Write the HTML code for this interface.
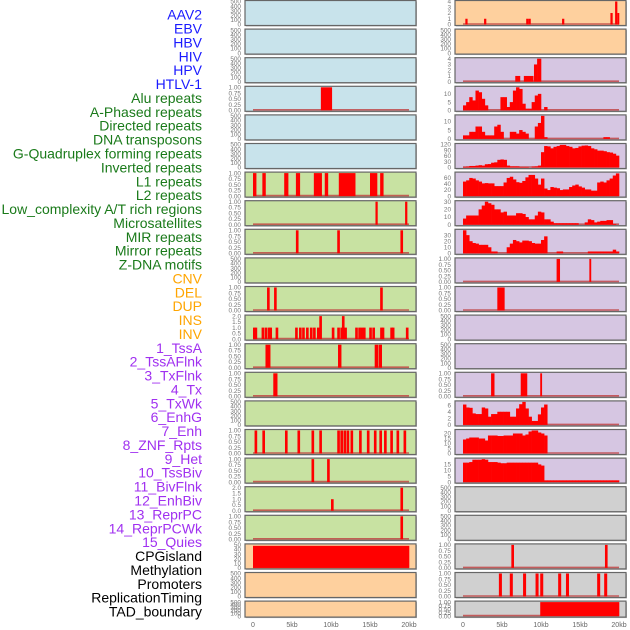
<!DOCTYPE html>
<html><head><meta charset="utf-8">
<style>
html,body{margin:0;padding:0;background:#fff;}
svg{display:block;font-family:"Liberation Sans",sans-serif;}
</style></head>
<body>
<svg id="chart" width="630" height="630" viewBox="0 0 630 630"></svg>
<script>
const trackNames = ["AAV2","EBV","HBV","HIV","HPV","HTLV-1","Alu repeats","A-Phased repeats","Directed repeats","DNA transposons","G-Quadruplex forming repeats","Inverted repeats","L1 repeats","L2 repeats","Low_complexity A/T rich regions","Microsatellites","MIR repeats","Mirror repeats","Z-DNA motifs","CNV","DEL","DUP","INS","INV","1_TssA","2_TssAFlnk","3_TxFlnk","4_Tx","5_TxWk","6_EnhG","7_Enh","8_ZNF_Rpts","9_Het","10_TssBiv","11_BivFlnk","12_EnhBiv","13_ReprPC","14_ReprPCWk","15_Quies","CPGisland","Methylation","Promoters","ReplicationTiming","TAD_boundary"];
const trackGroups = [0,0,0,0,0,0,1,1,1,1,1,1,1,1,1,1,1,1,1,2,2,2,2,2,3,3,3,3,3,3,3,3,3,3,3,3,3,3,3,4,4,4,4,4];
const groupLabelColors = ["#1a1aff","#1a7a1a","#ffa500","#a030f0","#000000"];
const groupPanelColors = ["#c8e3eb","#c8e2a2","#fed09e","#d6c6e2","#d0d0d0"];
const xTicks = [0,5,10,15,20];
const xTickLabels = ["0","5kb","10kb","15kb","20kb"];
const emptyTicks = [0,100,200,300,400,500];
const unitTicks = [0,0.25,0.5,0.75,1];
const twoTicks = [0,0.5,1,1.5,2];

const hivBars = [[8.7,10.1,1]];
const aluBars = [[0,0.4,1],[1.2,1.6,1],[4.0,4.5,1],[5.5,6.0,1],[7.8,8.8,1],[9.2,9.6,1],[11.0,13.1,1],[15.0,15.9,1],[16.3,16.7,1]];
const aphasedBars = [[15.7,15.95,1],[19.5,19.75,1]];
const directedBars = [[5.5,5.8,1],[10.8,11.1,1],[18.9,19.2,1]];
const gquadBars = [[1.8,2.1,1],[2.7,3.0,1],[16.3,16.6,1]];
const invertedStarts = [0,0.2,1.1,1.5,1.9,2.1,2.9,5.4,5.9,6.3,6.8,7.3,7.7,8.2,8.5,10.1,10.8,11.2,11.4,11.7,13.1,13.5,13.8,14.1,14.9,15.3,16.3,16.5,17.6,17.8,19.6];
const invertedValues = [1,1,1,1,1,1,1,1,1,1,1,1,1,1,2,1,1,1,2,1,1,1,1,1,1,1,1,1,1,1,1];
const l1Bars = [[1.6,2.2,1],[10.9,11.3,1],[15.6,16.0,1],[16.1,16.5,1]];
const l2Bars = [[2.6,3.1,1]];
const microStarts = [0.2,1.2,4.1,5.7,7.5,8.5,10.8,11.2,11.6,12.0,12.5,13.6,14.6,15.5,16.2,16.8,17.6,18.4,19.3];
const mirBars = [[7.5,7.8,1],[9.5,9.8,1]];
const mirrorBars = [[10.0,10.3,1],[18.9,19.2,2]];
const zdnaBars = [[18.9,19.2,1]];
const cnvBars = [[0,20,48]];
const insBars = [[0.3,0.55,1],[2.7,2.95,1],[8.1,8.35,1],[8.4,8.65,1],[12.7,12.95,1],[18.9,19.15,2],[19.5,19.75,4],[19.8,20.0,2]];
const tssABars = [[6.7,7.3,1],[7.8,9.0,1],[9.1,9.5,3],[9.5,10.0,4]];
const znfBars = [[12.0,12.4,1],[16.2,16.4,1]];
const hetBars = [[4.4,5.3,1]];
const enhBivBars = [[3.6,4.0,1],[7.4,8.2,1],[9.9,10.1,1]];
const promoterBars = [[6.2,6.5,1],[18.2,18.5,1]];
const repTimingStarts = [4.6,6.0,7.7,9.3,9.9,12.2,13.2,17.2,18.1];
const tadBars = [[9.9,20,1]];

const tssAFlnkProfile = [3,5,8,6,12,11,7,3,0,0,0,0,8,8,2,5,12,14,13,4,1,1,5,9,10,0,2,0,0,0,0,0,0,0,0,0,0,0,0,0,0,0,0,0,0,0,0,0,0,0];
const txFlnkProfile = [2,2,4,4,7,7,4,2,2,2,7,8,4,0,0,4,4,3,5,4,3,0,0,7,9,13,1,0,0,0,0,0,0,0,0,0,0,0,0,0,0,0,0,0,0,1,1,0,0,0];
const txProfile = [3,5,8,8,10,12,10,17,18,25,27,40,42,40,10,6,6,6,3,3,3,0,5,6,10,80,112,110,100,108,112,118,118,112,108,100,102,110,114,115,112,100,95,88,88,85,80,78,72,62];
const txWkProfile = [48,52,60,58,52,48,42,43,42,42,33,33,33,45,60,64,55,46,44,50,62,70,70,58,38,58,25,20,30,28,26,20,22,22,30,35,38,32,28,22,22,18,18,45,48,45,52,58,68,75];
const enhGProfile = [8,12,12,12,12,20,25,30,28,26,20,20,16,17,12,12,12,15,15,14,10,7,7,12,17,16,7,7,4,2,2,2,2,2,2,2,2,0,0,3,7,6,3,4,5,5,6,6,1,0];
const enhProfile = [38,30,20,17,16,14,14,14,10,3,3,0,0,0,10,16,22,20,18,21,21,20,17,16,16,22,28,0,0,0,3,3,0,0,0,0,0,0,0,0,3,3,3,3,3,3,3,3,6,3];
const reprPCProfile = [6.2,5.3,5.2,3.5,3.3,3.3,5.3,5.0,2.5,3.3,3.3,4,4,4,4,2.5,2.5,5,6.3,7,5,2.5,1.2,1.2,3.2,5.3,6.2,0,0,0,0,0,0,0,0,0,0,0,0,0,0,0,0,0,0,0,0,0,0,0];
const reprPCWkProfile = [14,15,16,16,16,15,15,13,18,18,18,17.5,17.5,18,18,18,20,20,20,18,19,22,23,23,21,20,18,0,0,0,0,0,0,0,0,0,0,0,0,0,0,0,0,0,0,0,0,0,0,0];
const quiesProfile = [16.5,16.5,17,19,19,19,19.5,19,17,17,17,16.5,16,16,16.5,16.5,16.5,16.5,16.5,16.5,16.5,16.5,16.5,16.5,15,14,1.5,1.5,1.5,1.5,1.5,1.5,1.5,1.5,1.5,1.5,1.5,1.5,1.5,1.5,1.5,1.5,1.5,1.5,1.5,1.5,1.5,1.5,1.5,1.5];

function startsToBars(starts, vals, w){ return starts.map((s,i)=>[s,s+w,vals?vals[i]:1]); }
function profileToBars(p){ return p.map((v,i)=>[i*0.4,(i+1)*0.4,v]); }

const trackData = [
 null,null,null,{b:hivBars,m:1,t:unitTicks},null,null,
 {b:aluBars,m:1,t:unitTicks},{b:aphasedBars,m:1,t:unitTicks},{b:directedBars,m:1,t:unitTicks},null,
 {b:gquadBars,m:1,t:unitTicks},{b:startsToBars(invertedStarts,invertedValues,0.3),m:2,t:twoTicks},
 {b:l1Bars,m:1,t:unitTicks},{b:l2Bars,m:1,t:unitTicks},null,
 {b:startsToBars(microStarts,null,0.3),m:1,t:unitTicks},{b:mirBars,m:1,t:unitTicks},
 {b:mirrorBars,m:2,t:twoTicks},{b:zdnaBars,m:1,t:unitTicks},
 {b:cnvBars,m:50,t:[0,10,20,30,40,50]},null,null,
 {b:insBars,m:4,t:[0,1,2,3,4]},null,
 {b:tssABars,m:4,t:[0,1,2,3,4]},
 {b:profileToBars(tssAFlnkProfile),m:14,t:[0,5,10]},
 {b:profileToBars(txFlnkProfile),m:13,t:[0,5,10]},
 {b:profileToBars(txProfile),m:120,t:[0,30,60,90,120]},
 {b:profileToBars(txWkProfile),m:76,t:[0,20,40,60]},
 {b:profileToBars(enhGProfile),m:30,t:[0,10,20,30]},
 {b:profileToBars(enhProfile),m:38,t:[0,10,20,30]},
 {b:znfBars,m:1,t:unitTicks},{b:hetBars,m:1,t:unitTicks},null,null,
 {b:enhBivBars,m:1,t:unitTicks},
 {b:profileToBars(reprPCProfile),m:7,t:[0,2,4,6]},
 {b:profileToBars(reprPCWkProfile),m:23,t:[0,5,10,15,20]},
 {b:profileToBars(quiesProfile),m:19.5,t:[0,5,10,15]},
 null,null,{b:promoterBars,m:1,t:unitTicks},
 {b:startsToBars(repTimingStarts,null,0.35),m:1,t:unitTicks},
 {b:tadBars,m:1,t:unitTicks}
];

const NS="http://www.w3.org/2000/svg";
const svg=document.getElementById('chart');
function el(tag,attrs,parent){const e=document.createElementNS(NS,tag);for(const k in attrs)e.setAttribute(k,attrs[k]);(parent||svg).appendChild(e);return e;}
function fmt(v,ticks){ if(ticks===unitTicks) return v.toFixed(2); if(ticks===twoTicks) return v.toFixed(1); return String(v); }

trackNames.forEach((n,i)=>{
  const t=el('text',{x:202,y:16+i*13.88,'text-anchor':'end','dominant-baseline':'middle','font-size':'14',fill:groupLabelColors[trackGroups[i]]});
  t.textContent=n;
  
  
});

trackNames.forEach((n,i)=>{
  const col = i<22?0:1, row = i%22;
  const fx = col?455:245, fw=171;
  const top = 0.5+row*28.6, h = row===21?16:25;
  const x0 = col?463:253;
  const xs = kb=>x0+kb*7.8;
  const g=el('g',{});
  
  
  el('rect',{x:fx+1,y:top+1,width:fw,height:h,fill:'#bbb'},g);
  el('rect',{x:fx,y:top,width:fw,height:h,fill:groupPanelColors[trackGroups[i]],stroke:'#666','stroke-width':1.2},g);
  const d=trackData[i];
  const ymax=d?d.m:500, ticks=d?d.t:emptyTicks;
  const ys=v=>top+h-1-(v/ymax)*(h-2);
  ticks.forEach(tv=>{
    const tt=el('text',{x:fx-4,y:ys(tv)+2.2,'text-anchor':'end','font-size':'6.4',fill:'#777'},g);
    tt.textContent=fmt(tv,ticks);
    
    
  });
  if(d){
    el('line',{x1:xs(0),x2:xs(20),y1:ys(0)-0.5,y2:ys(0)-0.5,stroke:'#c04040','stroke-width':1.6,opacity:0.8},g);
    d.b.forEach(b=>{
      if(b[2]<=0) return;
      const r=el('rect',{x:xs(b[0]),y:ys(b[2]),width:Math.max(1,xs(b[1])-xs(b[0])+0.3),height:ys(0)-ys(b[2]),fill:'#ff0000'},g);
      
      
    });
  }
});

[253,463].forEach((x0,c)=>{
  xTicks.forEach((kb,j)=>{
    const t=el('text',{x:x0+kb*7.8,y:627,'text-anchor':'middle','font-size':'7',fill:'#666'});
    t.textContent=xTickLabels[j];
    
    
  });
});
</script>
</body></html>
